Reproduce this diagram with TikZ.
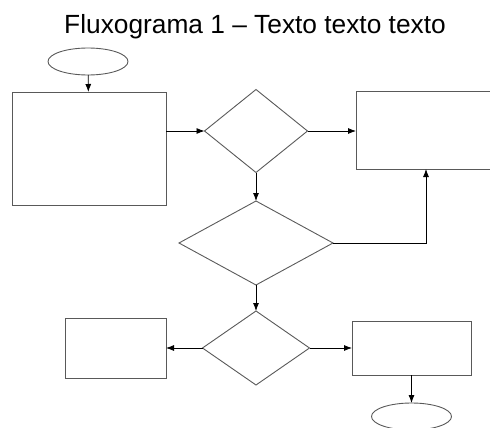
\documentclass[tikz,border=0pt]{standalone}
\usepackage{fontspec}
\setmainfont{Liberation Sans}
\usetikzlibrary{arrows.meta,shapes.geometric}
\tikzset{%
	startstop/.style= {draw=gray!70!black, ellipse, line width=0.9pt, minimum width=80pt, minimum height=27pt, inner sep=0pt, outer sep=0pt},
	process/.style  = {draw=gray!70!black, rectangle, line width=0.9pt, inner sep=0pt, outer sep=0pt},
	decision/.style = {draw=gray!70!black, diamond, line width=0.9pt, inner sep=0pt, outer sep=0pt},
	arrow/.style    = {line width=0.8pt, -{Latex[length=8pt,width=6pt]}},
}
\begin{document}
\begin{tikzpicture}[x=1pt,y=-1pt]
	\useasboundingbox (0,0) rectangle (490,428);
	\clip (0,0) rectangle (490,428);
	\node[anchor=base] (title) at (255,34) {\fontsize{26.3}{30}\selectfont Fluxograma 1 -- Texto texto texto};
	\node[startstop] (start) at (88,61.5) {};
	\node[process, minimum width=154pt, minimum height=113pt] (box1) at (89,148.5) {};
	\node[decision, minimum width=103pt, minimum height=83pt] (dec1) at (256,131) {};
	\node[process, minimum width=140pt, minimum height=78pt] (box2) at (426,130) {};
	\node[decision, minimum width=154pt, minimum height=84pt] (dec2) at (256,243) {};
	\node[decision, minimum width=107pt, minimum height=74pt] (dec3) at (256,348) {};
	\node[process, minimum width=101pt, minimum height=60pt] (box3) at (115.5,348) {};
	\node[process, minimum width=119pt, minimum height=54pt] (box4) at (411.5,348) {};
	\node[startstop] (stop) at (411.5,416.5) {};
	\draw[arrow] (start) -- (box1);
	\draw[arrow] (box1.east |- dec1) -- (dec1);
	\draw[arrow] (dec1) -- (box2.west |- dec1);
	\draw[arrow] (dec1) -- (dec2);
	\draw[arrow] (dec2.east) -| (box2.south);
	\draw[arrow] (dec2) -- (dec3);
	\draw[arrow] (dec3) -- (box3);
	\draw[arrow] (dec3) -- (box4);
	\draw[arrow] (box4) -- (stop);
\end{tikzpicture}
\end{document}
